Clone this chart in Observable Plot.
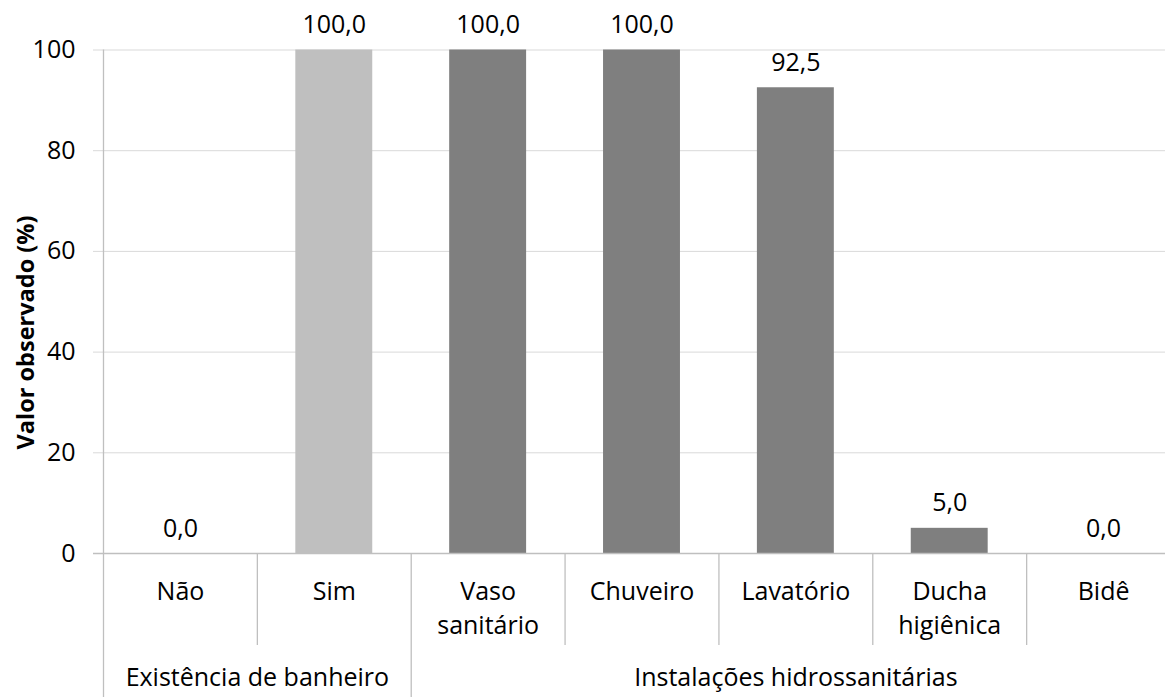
<!DOCTYPE html>
<html>
<head>
<meta charset="utf-8">
<script src="https://cdn.jsdelivr.net/npm/d3@7"></script>
<script src="https://cdn.jsdelivr.net/npm/@observablehq/plot@0.6"></script>
<style>
  html, body { margin: 0; padding: 0; background: #ffffff; overflow: hidden; }
  #chart svg { display: block; }
</style>
</head>
<body>
<div id="chart"></div>
<script>
// ---- data ----
const categories = ["Não", "Sim", "Vaso\nsanitário", "Chuveiro", "Lavatório", "Ducha\nhigiênica", "Bidê"];
const categoryGroups = [
  "Existência de banheiro", "Existência de banheiro",
  "Instalações hidrossanitárias", "Instalações hidrossanitárias", "Instalações hidrossanitárias",
  "Instalações hidrossanitárias", "Instalações hidrossanitárias"
];
const values = [0.0, 100.0, 100.0, 100.0, 92.5, 5.0, 0.0];
const groupNames = ["Existência de banheiro", "Instalações hidrossanitárias"];
const yTicks = [0, 20, 40, 60, 80, 100];
const yLabel = "Valor observado (%)";

// ---- layout / style ----
const W = 1165, H = 697;
const xRange = [103, 1180];      // plot area continues past the right edge (cropped like the source)
const yRange = [553, 49.5];
const shortSepBottom = 645;
const barPad = 0.25;
const groupColor = {"Existência de banheiro": "#bfbfbf", "Instalações hidrossanitárias": "#7f7f7f"};
const FONT = "Open Sans";

const rows = categories.map((c, i) => ({i, category: c, group: categoryGroups[i], value: values[i]}));
const spans = groupNames.map(g => {
  const idx = rows.filter(r => r.group === g).map(r => r.i);
  return {group: g, start: d3.min(idx), end: d3.max(idx) + 1};
});
const longSeps = [...new Set(spans.flatMap(s => [s.start, s.end]))];
const shortSeps = d3.range(0, categories.length + 1).filter(b => !longSeps.includes(b));
const fmt = v => d3.format(".1f")(v).replace(".", ",");

const chart = Plot.plot({
  width: W,
  height: H,
  marginTop: 0,
  marginBottom: 0,
  marginLeft: 93,
  marginRight: 0,
  style: {fontFamily: FONT, fontSize: "25px", color: "#000", background: "#fff"},
  x: {type: "linear", domain: [0, categories.length], range: xRange, axis: null},
  y: {domain: [0, 100], range: yRange, axis: null},
  marks: [
    // gridlines
    Plot.ruleY(yTicks.filter(t => t > 0), {y: d => d, stroke: "#d9d9d9", strokeWidth: 1}),
    // bars
    Plot.rect(rows, {
      x1: d => d.i + barPad,
      x2: d => d.i + 1 - barPad,
      y1: 0,
      y2: "value",
      fill: d => groupColor[d.group]
    }),
    // baseline
    Plot.ruleY([0], {y: d => d, stroke: "#bfbfbf", strokeWidth: 1.3}),
    // vertical value axis line
    Plot.ruleX([0], {x: d => d, y1: 0, y2: 100, stroke: "#bfbfbf", strokeWidth: 1.3}),
    // category separators below the axis
    Plot.ruleX(longSeps, {x: d => d, insetTop: yRange[0], stroke: "#bfbfbf", strokeWidth: 1.3}),
    Plot.ruleX(shortSeps, {x: d => d, insetTop: yRange[0], insetBottom: H - shortSepBottom, stroke: "#bfbfbf", strokeWidth: 1.3}),
    // y axis ticks
    Plot.axisY(yTicks, {anchor: "left", tickSize: 0, tickPadding: 18, fontSize: 25, label: null, fill: "#000"}),
    // data labels
    Plot.text(rows, {
      x: d => d.i + 0.5,
      y: "value",
      text: d => fmt(d.value),
      dy: -25,
      fontSize: 25,
      fill: "#000"
    }),
    // category labels
    Plot.text(rows, {
      x: d => d.i + 0.5,
      y: 0,
      text: "category",
      lineAnchor: "top",
      lineHeight: 1.36,
      dy: 22,
      fontSize: 25,
      fill: "#000"
    }),
    // group labels
    Plot.text(spans, {
      x: d => (d.start + d.end) / 2,
      y: 0,
      text: "group",
      lineAnchor: "top",
      dy: 115,
      fontSize: 25,
      fill: "#000"
    }),
    // y axis title
    Plot.text([yLabel], {
      text: d => d,
      frameAnchor: "left",
      textAnchor: "middle",
      rotate: -90,
      dx: -67,
      dy: -16.5,
      fontSize: 23.5,
      fontWeight: "bold",
      fill: "#000"
    })
  ]
});
document.getElementById("chart").append(chart);
</script>
</body>
</html>
